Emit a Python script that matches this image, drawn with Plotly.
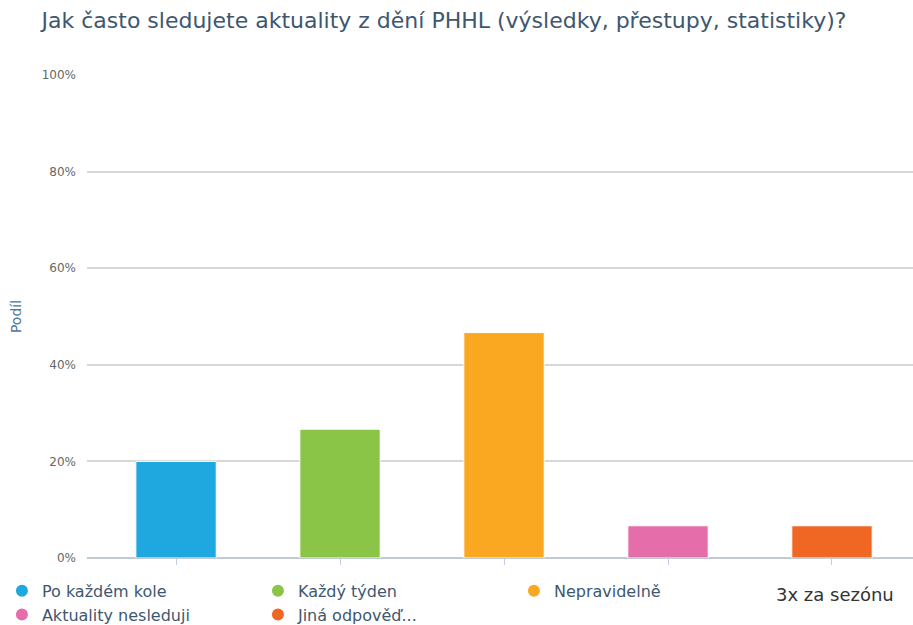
import plotly.graph_objects as go

# Survey answers and their share of respondents (percent)
categories = ["Po každém kole", "Každý týden", "Nepravidelně",
              "Aktuality nesleduji", "Jiná odpověď..."]
shares = [20.0, 26.67, 46.67, 6.67, 6.67]
colors = ["#1FA8E0", "#8BC548", "#FAA822", "#E56DAA", "#F06724"]
ytick_vals = [0, 20, 40, 60, 80, 100]
ytick_text = ["0%", "20%", "40%", "60%", "80%", "100%"]

title_text = "Jak často sledujete aktuality z dění PHHL (výsledky, přestupy, statistiky)?"
extra_label = "3x za sezónu"

FONT = "DejaVu Sans, sans-serif"

fig = go.Figure()

# one bar per answer, sharing one x position index each
for i, (cat, val, col) in enumerate(zip(categories, shares, colors)):
    fig.add_trace(go.Bar(
        x=[i], y=[val], width=0.49,
        marker=dict(color=col, line=dict(color="#ffffff", width=1)),
        name=cat, showlegend=False, hoverinfo="skip",
    ))

# legend entries with round symbols
for cat, col in zip(categories, colors):
    fig.add_trace(go.Scatter(
        x=[None], y=[None], mode="markers", name=cat,
        marker=dict(color=col, size=11, symbol="circle"),
    ))

fig.update_layout(
    width=913, height=625,
    margin=dict(l=87, r=0, t=75, b=67, autoexpand=False),
    paper_bgcolor="#ffffff", plot_bgcolor="#ffffff",
    barmode="overlay",
    font=dict(family=FONT),
    title=dict(text=title_text, x=444 / 913, xanchor="center", y=0.968, yanchor="middle",
               font=dict(size=22, color="#3E576F")),
    showlegend=True,
    legend=dict(orientation="h", x=-0.103, xanchor="left", y=-0.0326, yanchor="top",
                entrywidth=211, entrywidthmode="pixels", tracegroupgap=0,
                itemsizing="constant",
                font=dict(size=16, color="#3E576F"), bgcolor="rgba(0,0,0,0)"),
    xaxis=dict(range=[-0.543, 4.494], showgrid=False, zeroline=False,
               showticklabels=False, ticks="outside", ticklen=6, tickwidth=1,
               tickcolor="#C0D0E0", tickvals=list(range(len(categories))),
               showline=False, fixedrange=True),
    yaxis=dict(range=[0, 100], tickvals=ytick_vals, ticktext=ytick_text,
               showgrid=True, gridcolor="#D8D8D8", gridwidth=2,
               zeroline=True, zerolinecolor="#C0CBD6", zerolinewidth=2,
               ticks="", ticklabelstandoff=10,
               tickfont=dict(size=12, color="#666666"),
               title=dict(text="Podíl", standoff=16,
                          font=dict(size=14, color="#4D759E")),
               fixedrange=True),
    annotations=[dict(text=extra_label, xref="paper", yref="paper",
                      x=(835 - 87) / 826, y=-0.075, xanchor="center", yanchor="middle",
                      showarrow=False, font=dict(size=18, color="#333333"))],
)

fig.write_html("out.html")
